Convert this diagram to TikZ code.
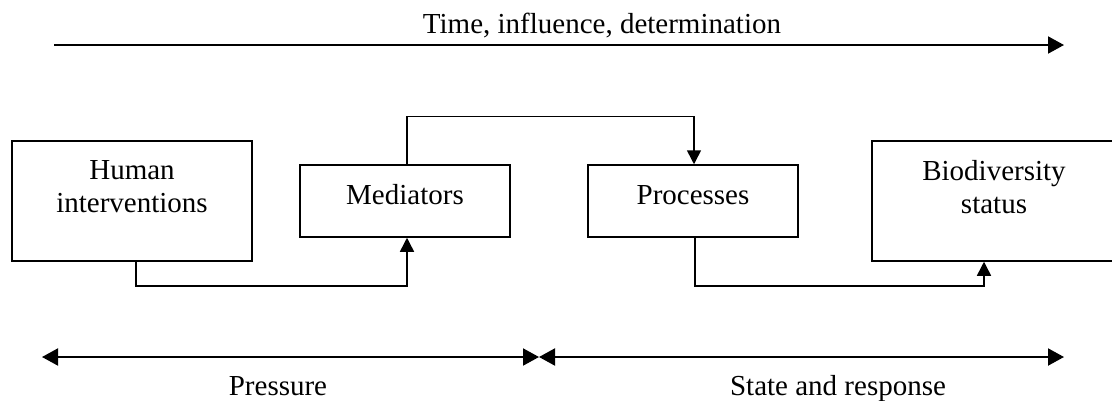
\documentclass[tikz,border=0pt]{standalone}
\usepackage{fontspec}
\setmainfont{Liberation Serif}
\usetikzlibrary{arrows.meta}
\begin{document}
\begin{tikzpicture}[x=1pt,y=-1pt,
  box/.style={draw, line width=1.5pt, inner sep=0pt, rectangle},
  lbl/.style={font=\fontsize{29}{33}\selectfont, align=center, inner sep=0pt},
  conn/.style={line width=1.5pt, -{Triangle[length=14pt,width=14pt]}},
  span/.style={line width=2pt, -{Triangle[length=16pt,width=17pt]}},
  twoway/.style={line width=2pt, {Triangle[length=16pt,width=17pt]}-{Triangle[length=16pt,width=17pt]}},
]
\useasboundingbox (0,0) rectangle (1112,400);
\clip (0,0) rectangle (1112,400);

% time axis
\coordinate (ts) at (54,45);
\coordinate (te) at (1064,45);
\draw[span] (ts) -- (te);
\node[lbl, anchor=base] (tlabel) at (602,33) {Time, influence, determination};

% boxes
\node[box, minimum width=240, minimum height=120] (hum) at (132,201) {};
\node[box, minimum width=210, minimum height=72] (med) at (405,201) {};
\node[box, minimum width=210, minimum height=72] (proc) at (693,201) {};
\node[box, minimum width=249, minimum height=120] (bio) at (996.5,201) {};

\node[lbl] (humt) at (132,187) {Human\\interventions};
\node[lbl, anchor=base] (medt) at (405,204) {Mediators};
\node[lbl, anchor=base] (proct) at (693,204) {Processes};
\node[lbl] (biot) at (994,187) {Biodiversity\\status};

% connectors
\draw[conn] ([xshift=4pt]hum.south) -- ++(0,24) -| ([xshift=2pt]med.south);
\draw[conn] ([xshift=2pt]med.north) -- ++(0,-48) -| ([xshift=1pt]proc.north);
\draw[conn] ([xshift=2pt]proc.south) -- ++(0,48) -| ([xshift=-12.5pt]bio.south);

% pressure / state-and-response spans
\coordinate (ps) at (42,357);
\coordinate (pm) at (539,357);
\coordinate (pe) at (1064,357);
\draw[twoway] (ps) -- (pm);
\draw[twoway] (pm) -- (pe);
\node[lbl, anchor=base] (plabel) at (278,395) {Pressure};
\node[lbl, anchor=base] (slabel) at (838,395) {State and response};
\end{tikzpicture}
\end{document}
